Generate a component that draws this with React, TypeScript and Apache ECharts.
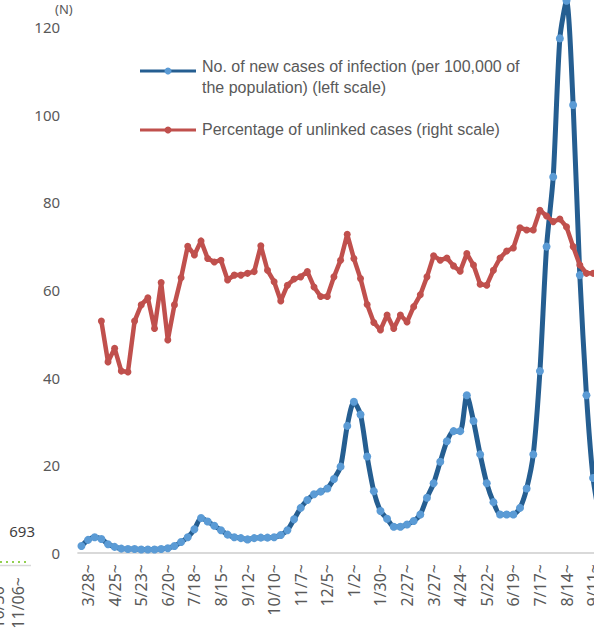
import React, { useEffect, useRef } from "react";
import * as echarts from "echarts";

const categories = [
  "3/21", "3/28", "4/4", "4/11", "4/18", "4/25", "5/2", "5/9", "5/16", "5/23",
  "5/30", "6/6", "6/13", "6/20", "6/27", "7/4", "7/11", "7/18", "7/25", "8/1",
  "8/8", "8/15", "8/22", "8/29", "9/5", "9/12", "9/19", "9/26", "10/3", "10/10",
  "10/17", "10/24", "10/31", "11/7", "11/14", "11/21", "11/28", "12/5", "12/12", "12/19",
  "12/26", "1/2", "1/9", "1/16", "1/23", "1/30", "2/6", "2/13", "2/20", "2/27",
  "3/6", "3/13", "3/20", "3/27", "4/3", "4/10", "4/17", "4/24", "5/1", "5/8",
  "5/15", "5/22", "5/29", "6/5", "6/12", "6/19", "6/26", "7/3", "7/10", "7/17",
  "7/24", "7/31", "8/7", "8/14", "8/21", "8/28", "9/4", "9/11", "9/18",
];

const newCasesPer100k = [
  1.6, 3.0, 3.6, 3.2, 2.0, 1.4, 1.0, 0.9, 0.9, 0.8,
  0.8, 0.8, 0.9, 1.1, 1.6, 2.5, 3.6, 5.4, 8.0, 7.2,
  6.2, 5.2, 4.2, 3.6, 3.4, 3.1, 3.4, 3.5, 3.5, 3.6,
  4.1, 5.2, 7.7, 10.3, 12.1, 13.4, 14.0, 14.7, 16.9, 19.7,
  29.0, 34.5, 31.6, 22.0, 14.1, 9.6, 7.8, 6.0, 6.0, 6.5,
  7.3, 8.8, 12.6, 15.9, 20.8, 25.5, 27.8, 27.8, 36.0, 30.1,
  22.5, 15.9, 11.6, 8.8, 8.8, 8.8, 10.3, 14.7, 22.5, 41.5,
  69.9, 85.8, 117.4, 126.0, 102.2, 63.4, 36.0, 17.1, 8.0,
];

const unlinkedPct = [
  null, null, null, 52.9, 43.6, 46.7, 41.5, 41.3, 52.9, 56.6,
  58.2, 51.2, 61.7, 48.6, 56.6, 62.8, 70.0, 68.0, 71.2, 67.2,
  66.4, 66.8, 62.3, 63.4, 63.4, 63.8, 64.2, 70.1, 64.5, 61.9,
  57.5, 61.1, 62.5, 63.0, 64.2, 60.7, 58.5, 58.5, 63.0, 66.8,
  72.7, 67.2, 62.6, 56.7, 52.6, 50.9, 54.3, 51.2, 54.3, 52.7,
  56.2, 58.9, 63.0, 67.8, 66.8, 67.3, 65.5, 64.3, 68.3, 65.7,
  61.3, 61.1, 64.5, 67.3, 68.9, 69.6, 74.2, 73.7, 73.7, 78.2,
  76.9, 75.6, 76.2, 74.4, 69.9, 65.7, 63.8, 63.8, 63.8,
];

const leftAxisMin = 0;
const leftAxisMax = 120;
const leftAxisStep = 20;

const legendNames = [
  "No. of new cases of infection (per 100,000 of\nthe population) (left scale)",
  "Percentage of unlinked cases (right scale)",
];

const BLUE_LINE = "#255E91";
const BLUE_DOT = "#5B9BD5";
const RED = "#C0504D";
const TEXT = "#595959";

export default function App() {
  const ref = useRef<HTMLDivElement>(null);

  useEffect(() => {
    if (!ref.current) return;
    const chart = echarts.init(ref.current, undefined, { renderer: "svg" });
    const catW = 6.645;
    const gridLeft = 78.1;
    const gridWidth = categories.length * catW;
    const chartW = 700;
    chart.setOption({
      animation: false,
      textStyle: { fontFamily: "Liberation Sans, Arial, sans-serif" },
      grid: {
        left: gridLeft,
        top: 27,
        bottom: 81,
        right: chartW - gridLeft - gridWidth,
        containLabel: false,
      },
      xAxis: {
        type: "category",
        data: categories,
        boundaryGap: true,
        axisLine: { show: true, lineStyle: { color: "#D9D9D9", width: 2 } },
        axisTick: { show: false },
        splitLine: { show: false },
        axisLabel: {
          interval: (idx: number) => idx % 4 === 1,
          rotate: 90,
          margin: 11,
          color: TEXT,
          fontSize: 16,
          fontFamily: "Noto Sans, sans-serif",
          formatter: (v: string) => v + "~",
        },
      },
      yAxis: [
        {
          type: "value",
          min: leftAxisMin,
          max: leftAxisMax,
          interval: leftAxisStep,
          axisLine: { show: false },
          axisTick: { show: false },
          splitLine: { show: false },
          axisLabel: {
            color: TEXT,
            fontSize: 15,
            margin: 18,
            fontFamily: "Noto Sans, sans-serif",
          },
        },
        {
          type: "value",
          min: leftAxisMin,
          max: leftAxisMax,
          show: false,
          splitLine: { show: false },
        },
      ],
      series: [
        {
          name: legendNames[0],
          type: "line",
          data: newCasesPer100k,
          yAxisIndex: 0,
          smooth: 0.25,
          clip: false,
          symbol: "circle",
          symbolSize: 8,
          showSymbol: true,
          showAllSymbol: true,
          lineStyle: { color: BLUE_LINE, width: 5 },
          itemStyle: { color: BLUE_DOT },
          z: 2,
        },
        {
          name: legendNames[1],
          type: "line",
          data: unlinkedPct,
          yAxisIndex: 1,
          symbol: "circle",
          symbolSize: 7,
          showSymbol: true,
          showAllSymbol: true,
          lineStyle: { color: RED, width: 4.5 },
          itemStyle: { color: RED },
          z: 3,
        },
      ],
      graphic: [
        {
          type: "text",
          left: 55,
          top: 2,
          style: { text: "(N)", fill: TEXT, fontSize: 13, fontFamily: "Noto Sans, sans-serif" },
        },
        {
          type: "line",
          shape: { x1: 140, y1: 71, x2: 196, y2: 71 },
          style: { stroke: BLUE_LINE, lineWidth: 3 },
        },
        { type: "circle", shape: { cx: 168, cy: 71, r: 3.5 }, style: { fill: BLUE_DOT } },
        {
          type: "text",
          x: 202,
          y: 56,
          style: {
            text: legendNames[0],
            fill: TEXT,
            fontSize: 16,
            lineHeight: 21,
            fontFamily: "Liberation Sans, Arial, sans-serif",
          },
        },
        {
          type: "line",
          shape: { x1: 140, y1: 130, x2: 196, y2: 130 },
          style: { stroke: RED, lineWidth: 3 },
        },
        { type: "circle", shape: { cx: 168, cy: 130, r: 3.5 }, style: { fill: RED } },
        {
          type: "text",
          x: 202,
          y: 129,
          style: {
            text: legendNames[1],
            fill: TEXT,
            fontSize: 16,
            verticalAlign: "middle",
            fontFamily: "Liberation Sans, Arial, sans-serif",
          },
        },
        // remnants of the neighbouring chart on the left
        {
          type: "text",
          x: 35,
          y: 531,
          style: {
            text: "693",
            fill: "#404040",
            fontSize: 15,
            align: "right",
            verticalAlign: "middle",
            fontFamily: "Noto Sans, sans-serif",
          },
        },
        {
          type: "line",
          shape: { x1: 0, y1: 562, x2: 29, y2: 562 },
          style: { stroke: "#92D050", lineWidth: 2, lineDash: [2, 4] },
        },
        {
          type: "line",
          shape: { x1: 0, y1: 565.5, x2: 31, y2: 565.5 },
          style: { stroke: "#D9D9D9", lineWidth: 1.5 },
        },
        {
          type: "text",
          x: 18,
          y: 577,
          rotation: Math.PI / 2,
          style: {
            text: "11/06~",
            fill: TEXT,
            fontSize: 16,
            align: "right",
            verticalAlign: "middle",
            fontFamily: "Noto Sans, sans-serif",
          },
        },
        {
          type: "text",
          x: -2,
          y: 577,
          rotation: Math.PI / 2,
          style: {
            text: "10/30~",
            fill: TEXT,
            fontSize: 16,
            align: "right",
            verticalAlign: "middle",
            fontFamily: "Noto Sans, sans-serif",
          },
        },
      ],
    });
    return () => chart.dispose();
  }, []);

  return (
    <div
      style={{
        position: "fixed",
        left: 0,
        top: 0,
        width: 594,
        height: 634,
        overflow: "hidden",
        background: "#ffffff",
      }}
    >
      <div ref={ref} style={{ position: "absolute", left: 0, top: 0, width: 700, height: 634 }} />
    </div>
  );
}
